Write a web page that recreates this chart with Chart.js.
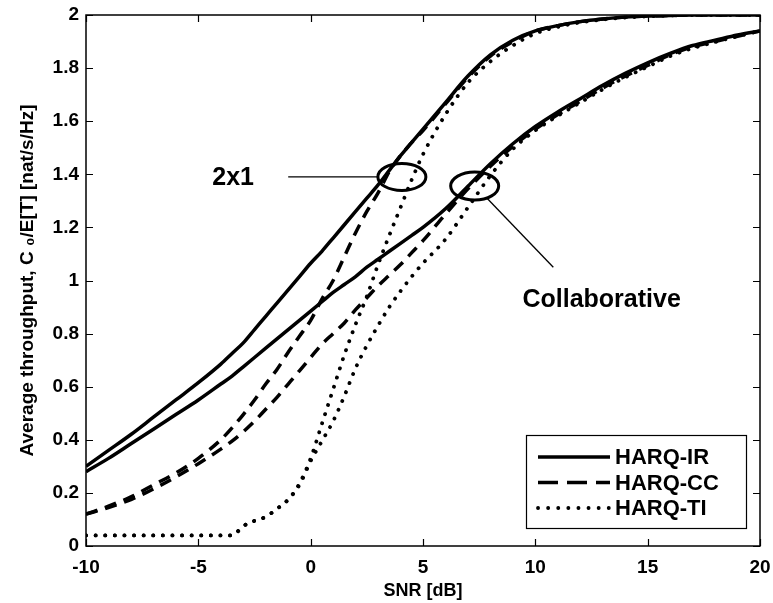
<!DOCTYPE html>
<html>
<head>
<meta charset="utf-8">
<script src="https://cdn.jsdelivr.net/npm/chart.js@4.4.1/dist/chart.umd.min.js"></script>
<style>
  html, body { margin: 0; padding: 0; background: #fff; }
  canvas { display: block; }
</style>
</head>
<body>
<canvas id="chart" width="773" height="603"></canvas>
<script>
// SNR grid [dB] shared by all curves
const snr = [-10, -9, -8, -7, -6, -5, -4, -3.5, -3, -2.5, -2, -1.5, -1, -0.5, 0, 0.5, 1, 1.5, 2, 2.5,
             3, 3.5, 4, 4.5, 5, 6, 7, 8, 9, 10, 11, 12, 13, 14, 15, 16, 17, 18, 19, 20];

// 2x1 curves
const ir2x1 = [0.30, 0.36, 0.42, 0.485, 0.55, 0.615, 0.685, 0.725, 0.765, 0.815, 0.865, 0.915, 0.965, 1.015, 1.065, 1.11, 1.16, 1.21, 1.26, 1.31,
               1.36, 1.415, 1.47, 1.52, 1.57, 1.67, 1.77, 1.85, 1.905, 1.94, 1.96, 1.975, 1.985, 1.992, 1.996, 1.998, 2, 2, 2, 2];
const cc2x1 = [0.12, 0.15, 0.185, 0.23, 0.275, 0.33, 0.40, 0.445, 0.495, 0.55, 0.61, 0.665, 0.73, 0.79, 0.85, 0.93, 1.00, 1.09, 1.18, 1.26,
               1.33, 1.41, 1.47, 1.52, 1.565, 1.665, 1.765, 1.845, 1.90, 1.94, 1.96, 1.975, 1.985, 1.992, 1.996, 1.998, 2, 2, 2, 2];
const ti2x1 = [0.04, 0.04, 0.04, 0.04, 0.04, 0.04, 0.04, 0.04, 0.075, 0.095, 0.11, 0.14, 0.175, 0.235, 0.33, 0.46, 0.59, 0.72, 0.835, 0.94,
               1.06, 1.17, 1.275, 1.38, 1.475, 1.625, 1.745, 1.825, 1.885, 1.93, 1.955, 1.972, 1.983, 1.99, 1.995, 1.998, 2, 2, 2, 2];

// Collaborative curves
const irCol = [0.28, 0.33, 0.385, 0.44, 0.495, 0.55, 0.61, 0.64, 0.675, 0.71, 0.745, 0.78, 0.815, 0.85, 0.885, 0.92, 0.955, 0.985, 1.015, 1.05,
               1.08, 1.11, 1.14, 1.17, 1.20, 1.27, 1.355, 1.44, 1.515, 1.58, 1.635, 1.685, 1.735, 1.78, 1.82, 1.855, 1.885, 1.905, 1.925, 1.94];
const ccCol = [0.12, 0.145, 0.175, 0.215, 0.26, 0.31, 0.365, 0.395, 0.43, 0.47, 0.515, 0.56, 0.61, 0.66, 0.71, 0.76, 0.80, 0.84, 0.89, 0.935,
               0.98, 1.02, 1.06, 1.105, 1.15, 1.25, 1.345, 1.43, 1.505, 1.57, 1.625, 1.675, 1.725, 1.77, 1.81, 1.85, 1.88, 1.90, 1.92, 1.94];
const tiCol = [0.04, 0.04, 0.04, 0.04, 0.04, 0.04, 0.04, 0.04, 0.075, 0.095, 0.11, 0.14, 0.175, 0.23, 0.32, 0.395, 0.47, 0.565, 0.67, 0.755,
               0.83, 0.90, 0.96, 1.015, 1.065, 1.155, 1.275, 1.395, 1.495, 1.565, 1.62, 1.67, 1.72, 1.765, 1.805, 1.845, 1.875, 1.898, 1.92, 1.94];

const xTicks = [-10, -5, 0, 5, 10, 15, 20];
const yTicks = [0, 0.2, 0.4, 0.6, 0.8, 1, 1.2, 1.4, 1.6, 1.8, 2];
const legendLabels = ['HARQ-IR', 'HARQ-CC', 'HARQ-TI'];

const FONT = "'Liberation Sans', Arial, sans-serif";

const lineStyles = {
  'HARQ-IR': { borderDash: [], legendDash: [], borderWidth: 3.5, borderCapStyle: 'butt' },
  'HARQ-CC': { borderDash: [12, 8], legendDash: [20, 9], borderWidth: 3.5, borderCapStyle: 'butt' },
  'HARQ-TI': { borderDash: [0.1, 9.5], legendDash: [0.1, 10], borderWidth: 3.8, borderCapStyle: 'round' }
};

// annotation marks, in data units
const notes = [
  { text: '2x1', center: [4.06, 1.39], rx: 24, ry: 13.5, from: [-1.0, 1.39], to: [3.0, 1.39], textAt: [-3.45, 1.385] },
  { text: 'Collaborative', center: [7.3, 1.356], rx: 24, ry: 14, from: [7.85, 1.31], to: [10.8, 1.05], textAt: [12.95, 0.925] }
];

function series(label, values) {
  const s = lineStyles[label];
  return {
    label,
    data: snr.map((x, i) => ({ x, y: values[i] })),
    borderColor: '#000',
    borderWidth: s.borderWidth,
    borderDash: s.borderDash,
    borderCapStyle: s.borderCapStyle,
    cubicInterpolationMode: 'monotone',
    pointRadius: 0,
    fill: false
  };
}

const overlay = {
  id: 'overlay',
  afterDatasetsDraw(chart) {
    const ctx = chart.ctx;
    const a = chart.chartArea;
    const xs = chart.scales.x, ys = chart.scales.y;
    ctx.save();
    ctx.strokeStyle = '#000';
    ctx.fillStyle = '#000';

    // inward ticks on all four sides
    ctx.lineWidth = 1.2;
    ctx.beginPath();
    xTicks.forEach(v => {
      const px = Math.round(xs.getPixelForValue(v)) + 0.5;
      ctx.moveTo(px, a.bottom); ctx.lineTo(px, a.bottom - 7);
      ctx.moveTo(px, a.top); ctx.lineTo(px, a.top + 7);
    });
    yTicks.forEach(v => {
      const py = Math.round(ys.getPixelForValue(v)) + 0.5;
      ctx.moveTo(a.left, py); ctx.lineTo(a.left + 7, py);
      ctx.moveTo(a.right, py); ctx.lineTo(a.right - 7, py);
    });
    ctx.stroke();

    // frame
    ctx.lineWidth = 1.5;
    ctx.strokeRect(a.left, a.top, a.right - a.left, a.bottom - a.top);

    // ellipses, leader lines, labels
    notes.forEach(n => {
      const cx = xs.getPixelForValue(n.center[0]), cy = ys.getPixelForValue(n.center[1]);
      ctx.lineWidth = 3;
      ctx.beginPath();
      ctx.ellipse(cx, cy, n.rx, n.ry, 0, 0, Math.PI * 2);
      ctx.stroke();
      ctx.lineWidth = 1.3;
      ctx.beginPath();
      ctx.moveTo(xs.getPixelForValue(n.from[0]), ys.getPixelForValue(n.from[1]));
      ctx.lineTo(xs.getPixelForValue(n.to[0]), ys.getPixelForValue(n.to[1]));
      ctx.stroke();
      ctx.font = 'bold 25px ' + FONT;
      ctx.textAlign = 'center';
      ctx.textBaseline = 'middle';
      ctx.fillText(n.text, xs.getPixelForValue(n.textAt[0]), ys.getPixelForValue(n.textAt[1]));
    });
    ctx.restore();
  },
  afterDraw(chart) {
    // legend box inside the lower right corner
    const ctx = chart.ctx;
    const a = chart.chartArea;
    const w = 220, h = 93;
    const left = a.right - 14 - w, top = a.bottom - 18 - h;
    ctx.save();
    ctx.fillStyle = '#fff';
    ctx.fillRect(left, top, w, h);
    ctx.strokeStyle = '#000';
    ctx.lineWidth = 1.2;
    ctx.strokeRect(left + 0.5, top + 0.5, w, h);
    ctx.font = 'bold 22px ' + FONT;
    ctx.textBaseline = 'middle';
    ctx.textAlign = 'left';
    legendLabels.forEach((lab, i) => {
      const s = lineStyles[lab];
      const y = top + 22 + i * 25.5;
      ctx.beginPath();
      ctx.setLineDash(s.legendDash);
      ctx.lineWidth = s.borderWidth;
      ctx.lineCap = s.borderCapStyle;
      ctx.moveTo(left + 12, y);
      ctx.lineTo(left + 84, y);
      ctx.stroke();
      ctx.setLineDash([]);
      ctx.fillStyle = '#000';
      ctx.fillText(lab, left + 89, y + 1);
    });
    ctx.restore();
  }
};

new Chart(document.getElementById('chart').getContext('2d'), {
  type: 'line',
  data: {
    datasets: [
      series('HARQ-IR', ir2x1),
      series('HARQ-IR', irCol),
      series('HARQ-CC', cc2x1),
      series('HARQ-CC', ccCol),
      series('HARQ-TI', ti2x1),
      series('HARQ-TI', tiCol)
    ]
  },
  options: {
    responsive: false,
    animation: false,
    devicePixelRatio: 1,
    layout: { padding: 0 },
    plugins: {
      legend: { display: false },
      tooltip: { enabled: false }
    },
    scales: {
      x: {
        type: 'linear',
        min: -10,
        max: 20,
        afterBuildTicks: s => { s.ticks = xTicks.map(v => ({ value: v })); },
        afterFit: s => { s.height = 57; s.paddingLeft = 0; s.paddingRight = 13; },
        grid: { display: false, drawTicks: false },
        border: { display: false },
        ticks: { color: '#000', padding: 10, font: { family: FONT, size: 19, weight: 'bold' }, callback: v => String(v) },
        title: { display: true, text: 'SNR [dB]', color: '#000', padding: { top: 0, bottom: 1 }, font: { family: FONT, size: 18, weight: 'bold' } }
      },
      y: {
        type: 'linear',
        min: 0,
        max: 2,
        afterBuildTicks: s => { s.ticks = yTicks.map(v => ({ value: v })); },
        afterFit: s => { s.width = 86; s.paddingTop = 15; s.paddingBottom = 0; },
        grid: { display: false, drawTicks: false },
        border: { display: false },
        ticks: { color: '#000', padding: 7, font: { family: FONT, size: 19, weight: 'bold' }, callback: v => String(v) },
        title: { display: true, text: 'Average throughput, C \u2080/E[T] [nat/s/Hz]', color: '#000', padding: { top: 16 }, font: { family: FONT, size: 19, weight: 'bold' } }
      }
    }
  },
  plugins: [overlay]
});
</script>
</body>
</html>
